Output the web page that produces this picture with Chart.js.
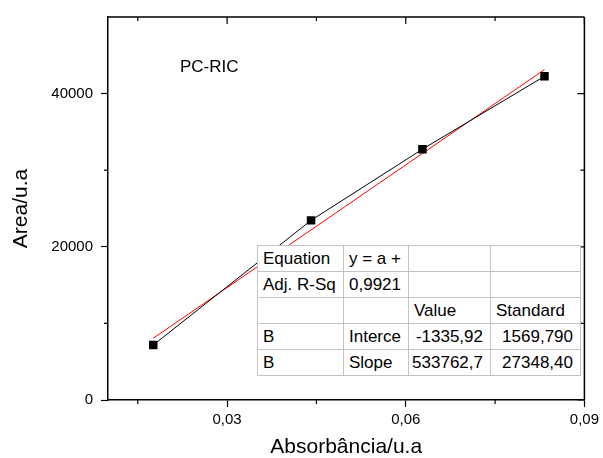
<!DOCTYPE html>
<html lang="pt">
<head>
    <meta charset="UTF-8">
    <title>PC-RIC</title>
    <script src="https://cdn.jsdelivr.net/npm/chart.js"></script>
    <style>
        body { margin: 0; background: #fff; }
        .wrap { position: relative; width: 603px; height: 458px; font-family: "Liberation Sans", Arial, sans-serif; }
        #chart { position: absolute; left: 0; top: 0; }
        #label { position: absolute; left: 180px; top: 58px; font-size: 17px; line-height: 17px; color: #000; }
        #fitTable {
            position: absolute; left: 257px; top: 245px;
            border-collapse: collapse; table-layout: fixed; background: #fff;
            font-size: 17px; color: #000; border: 1px solid #333;
        }
        #fitTable td {
            border: 1px solid #c4c4c4; height: 25px; padding: 0 5px;
            white-space: nowrap; overflow: hidden; line-height: 25px;
        }
        #fitTable td.num { text-align: right; padding-right: 7px; padding-left: 2px; }
    </style>
</head>
<body>
<div class="wrap">
    <canvas id="chart" width="603" height="458"></canvas>
    <div id="label"></div>
    <table id="fitTable"></table>
</div>
<script>
    // valores
    const absorbance = [0.0176, 0.0441, 0.0628, 0.0833];
    const area = [7180, 23450, 32740, 42260];
    const fitX = [0.0176, 0.0833];
    const fitY = [8060, 43130];
    const xMajor = [0.03, 0.06, 0.09];
    const xMinor = [0.015, 0.045, 0.075];
    const yMajor = [0, 20000, 40000];
    const yMinor = [10000, 30000];
    const sampleLabel = "PC-RIC";
    const tableRows = [
        ["Equation", "y = a +", "", ""],
        ["Adj. R-Sq", "0,9921", "", ""],
        ["", "", "Value", "Standard"],
        ["B", "Interce", "-1335,92", "1569,790"],
        ["B", "Slope", "533762,7", "27348,40"]
    ];
    const colWidths = [86, 65, 82, 90];

    document.getElementById("label").textContent = sampleLabel;

    // tabela do ajuste linear
    const table = document.getElementById("fitTable");
    const cg = document.createElement("colgroup");
    colWidths.forEach(w => {
        const c = document.createElement("col");
        c.style.width = w + "px";
        cg.appendChild(c);
    });
    table.appendChild(cg);
    tableRows.forEach((row, r) => {
        const tr = document.createElement("tr");
        row.forEach((txt, i) => {
            const td = document.createElement("td");
            td.textContent = txt;
            if (r >= 3 && i >= 2) td.className = "num";
            tr.appendChild(td);
        });
        table.appendChild(tr);
    });

    // moldura: linhas de cima/direita e ticks menores
    const frameTicks = {
        id: "frameTicks",
        afterDraw(chart) {
            const ctx = chart.ctx;
            const a = chart.chartArea;
            const xs = chart.scales.x, ys = chart.scales.y;
            ctx.save();
            ctx.strokeStyle = "#000";
            ctx.lineWidth = 1.5;
            ctx.beginPath();
            ctx.moveTo(a.left, a.top); ctx.lineTo(a.right, a.top);
            ctx.moveTo(a.right, a.top); ctx.lineTo(a.right, a.bottom);
            ctx.stroke();
            ctx.lineWidth = 1.2;
            ctx.beginPath();
            xMinor.forEach(v => {
                const px = xs.getPixelForValue(v);
                ctx.moveTo(px, a.bottom); ctx.lineTo(px, a.bottom + 4);
                ctx.moveTo(px, a.top); ctx.lineTo(px, a.top + 4);
            });
            xMajor.forEach(v => {
                const px = xs.getPixelForValue(v);
                ctx.moveTo(px, a.top); ctx.lineTo(px, a.top + 7);
            });
            yMinor.forEach(v => {
                const py = ys.getPixelForValue(v);
                ctx.moveTo(a.left, py); ctx.lineTo(a.left - 4, py);
                ctx.moveTo(a.right, py); ctx.lineTo(a.right - 4, py);
            });
            yMajor.forEach(v => {
                const py = ys.getPixelForValue(v);
                ctx.moveTo(a.right, py); ctx.lineTo(a.right - 7, py);
            });
            ctx.stroke();
            ctx.restore();
        }
    };

    const font = "'Liberation Sans', Arial, sans-serif";

    new Chart(document.getElementById("chart"), {
        type: "scatter",
        data: {
            datasets: [
                {
                    label: "Area",
                    data: absorbance.map((x, i) => ({ x: x, y: area[i] })),
                    showLine: true,
                    borderColor: "#000",
                    borderWidth: 1,
                    backgroundColor: "#000",
                    pointStyle: "rect",
                    pointRadius: 6,
                    pointBorderWidth: 0,
                    order: 0
                },
                {
                    label: "Linear Fit",
                    data: fitX.map((x, i) => ({ x: x, y: fitY[i] })),
                    showLine: true,
                    borderColor: "#ff0000",
                    borderWidth: 1,
                    pointRadius: 0,
                    order: 1
                }
            ]
        },
        options: {
            responsive: false,
            animation: false,
            layout: { padding: { left: 0, right: 16, top: 15, bottom: 0 } },
            plugins: { legend: { display: false }, tooltip: { enabled: false } },
            scales: {
                x: {
                    type: "linear",
                    min: 0.01,
                    max: 0.09,
                    afterBuildTicks: s => { s.ticks = xMajor.map(v => ({ value: v })); },
                    afterFit: s => { s.height = 58; },
                    border: { color: "#000", width: 1.5 },
                    grid: { drawOnChartArea: false, tickLength: 7, tickColor: "#000", tickWidth: 1.2 },
                    ticks: {
                        color: "#000", padding: 4,
                        font: { family: font, size: 15 },
                        callback: v => v.toFixed(2).replace(".", ",")
                    },
                    title: {
                        display: true, text: "Absorbância/u.a", color: "#000",
                        font: { family: font, size: 21 }, padding: { top: 0, bottom: -2 }
                    }
                },
                y: {
                    type: "linear",
                    min: 0,
                    max: 50000,
                    afterBuildTicks: s => { s.ticks = yMajor.map(v => ({ value: v })); },
                    afterFit: s => { s.width = 108; },
                    border: { color: "#000", width: 1.5 },
                    grid: { drawOnChartArea: false, tickLength: 7, tickColor: "#000", tickWidth: 1.2 },
                    ticks: {
                        color: "#000", padding: 8,
                        font: { family: font, size: 15 },
                        callback: v => String(v)
                    },
                    title: {
                        display: true, text: "Area/u.a", color: "#000",
                        font: { family: font, size: 21 }, padding: { top: 9, bottom: 0 }
                    }
                }
            }
        },
        plugins: [frameTicks]
    });
</script>
</body>
</html>
